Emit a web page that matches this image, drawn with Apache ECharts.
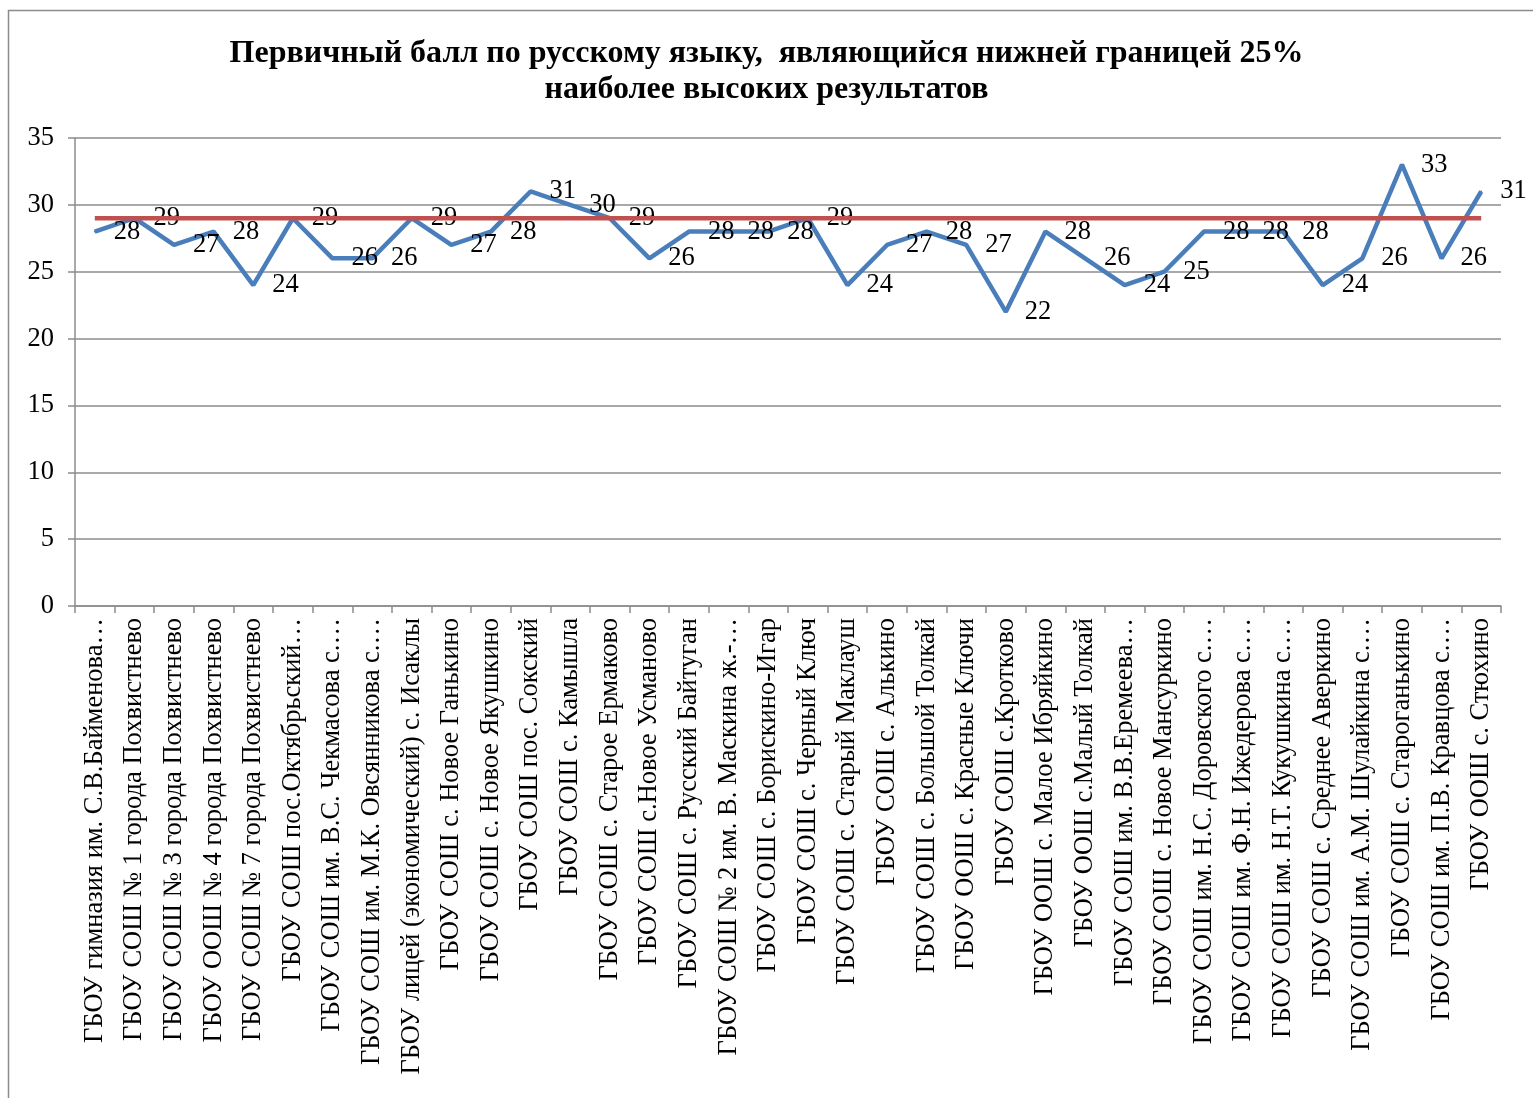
<!DOCTYPE html>
<html><head><meta charset="utf-8">
<script src="https://cdn.jsdelivr.net/npm/echarts@6/dist/echarts.min.js"></script>
<style>html,body{margin:0;padding:0;background:#fff}#c{width:1533px;height:1098px}</style>
</head><body><div id="c"></div>
<script>
const titleText = 'Первичный балл по русскому языку,  являющийся нижней границей 25%\nнаиболее высоких результатов';
const categories = [
 'ГБОУ гимназия им. С.В.Байменова…',
 'ГБОУ СОШ № 1 города Похвистнево',
 'ГБОУ СОШ № 3 города Похвистнево',
 'ГБОУ ООШ № 4 города Похвистнево',
 'ГБОУ СОШ № 7 города Похвистнево',
 'ГБОУ СОШ пос.Октябрьский…',
 'ГБОУ СОШ им. В.С. Чекмасова с.…',
 'ГБОУ СОШ им. М.К. Овсянникова с.…',
 'ГБОУ лицей (экономический) с. Исаклы',
 'ГБОУ СОШ с. Новое Ганькино',
 'ГБОУ СОШ с. Новое Якушкино',
 'ГБОУ СОШ пос. Сокский',
 'ГБОУ СОШ с. Камышла',
 'ГБОУ СОШ с. Старое Ермаково',
 'ГБОУ СОШ с.Новое Усманово',
 'ГБОУ СОШ с. Русский Байтуган',
 'ГБОУ СОШ № 2 им. В. Маскина ж.-…',
 'ГБОУ СОШ с. Борискино-Игар',
 'ГБОУ СОШ с. Черный Ключ',
 'ГБОУ СОШ с. Старый Маклауш',
 'ГБОУ СОШ с. Алькино',
 'ГБОУ СОШ с. Большой Толкай',
 'ГБОУ ООШ с. Красные Ключи',
 'ГБОУ СОШ с.Кротково',
 'ГБОУ ООШ с. Малое Ибряйкино',
 'ГБОУ ООШ с.Малый Толкай',
 'ГБОУ СОШ им. В.В.Еремеева…',
 'ГБОУ СОШ с. Новое Мансуркино',
 'ГБОУ СОШ им. Н.С. Доровского с.…',
 'ГБОУ СОШ им. Ф.Н. Ижедерова с.…',
 'ГБОУ СОШ им. Н.Т. Кукушкина с.…',
 'ГБОУ СОШ с. Среднее Аверкино',
 'ГБОУ СОШ им. А.М. Шулайкина с.…',
 'ГБОУ СОШ с. Староганькино',
 'ГБОУ СОШ им. П.В. Кравцова с.…',
 'ГБОУ ООШ с. Стюхино'
];
const scores = [28,29,27,28,24,29,26,26,29,27,28,31,30,29,26,28,28,28,29,24,27,28,27,22,28,26,24,25,28,28,28,24,26,33,26,31];
const thresholdValue = 29;
const threshold = categories.map(() => thresholdValue);
const yTicks = {min: 0, max: 35, interval: 5};

const FONT = '"Liberation Serif","Times New Roman",serif';
const chart = echarts.init(document.getElementById('c'), null, {renderer: 'canvas'});
chart.setOption({
  animation: false,
  backgroundColor: '#fff',
  graphic: [{
    type: 'rect', silent: true, z: -1,
    shape: {x: 8.5, y: 10.5, width: 1600, height: 1200},
    style: {fill: 'none', stroke: '#8c8c8c', lineWidth: 1.5}
  }],
  title: {
    text: titleText, left: 'center', top: 31,
    textStyle: {fontFamily: FONT, fontWeight: 'bold', fontSize: 32, color: '#000', lineHeight: 36}
  },
  grid: {left: 75, right: 32, top: 138, bottom: 492, containLabel: false},
  xAxis: {
    type: 'category', data: categories, boundaryGap: true,
    axisLine: {lineStyle: {color: '#8c8c8c', width: 1.5}},
    axisTick: {show: true, length: 7, alignWithLabel: false, lineStyle: {color: '#8c8c8c', width: 1.5}},
    axisLabel: {rotate: 90, interval: 0, margin: 12, fontFamily: FONT, fontSize: 26.5, color: '#000'},
    splitLine: {show: false}
  },
  yAxis: {
    type: 'value', min: yTicks.min, max: yTicks.max, interval: yTicks.interval,
    axisLine: {show: true, lineStyle: {color: '#8c8c8c', width: 1.5}},
    axisTick: {show: true, length: 7, lineStyle: {color: '#8c8c8c', width: 1.5}},
    axisLabel: {fontFamily: FONT, fontSize: 26.5, color: '#000', margin: 21},
    splitLine: {lineStyle: {color: '#8c8c8c', width: 1.5}}
  },
  series: [
    {
      type: 'line', data: scores, symbol: 'circle', symbolSize: 2, showSymbol: true,
      itemStyle: {color: '#4a7ebb'},
      lineStyle: {color: '#4a7ebb', width: 4.5},
      label: {show: true, position: 'right', distance: 18, fontFamily: FONT, fontSize: 26.5, color: '#000'},
      z: 2
    },
    {
      type: 'line', data: threshold, symbol: 'none',
      lineStyle: {color: '#c0504d', width: 4.5},
      z: 3
    }
  ]
});
</script></body></html>
